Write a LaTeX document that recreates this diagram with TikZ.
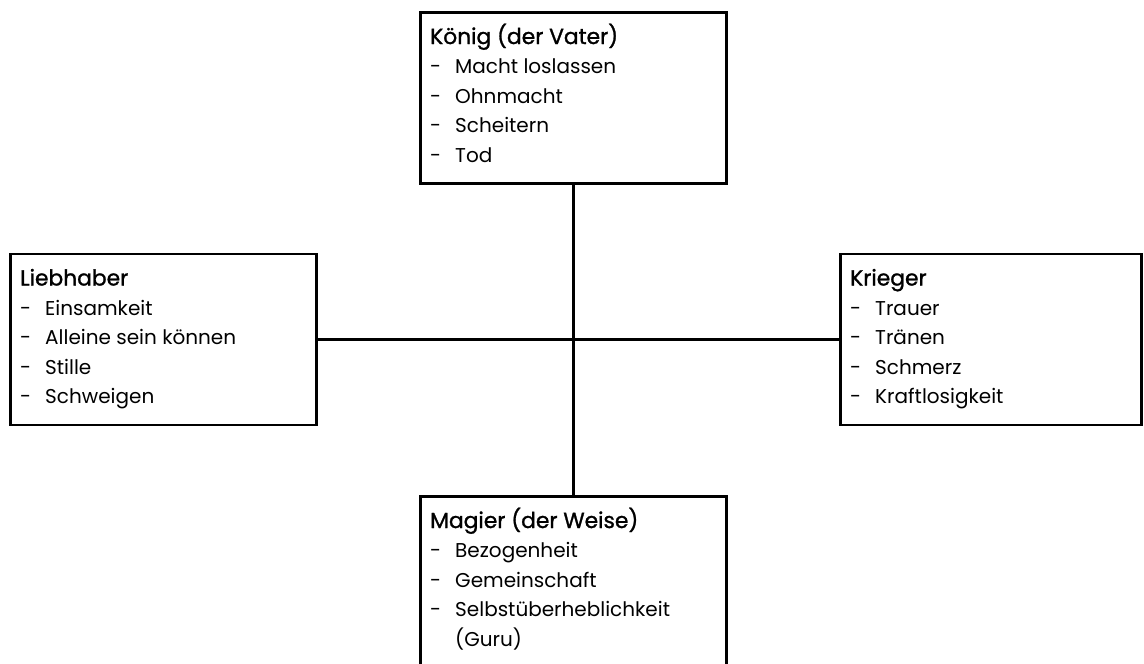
\documentclass[tikz,border=0pt]{standalone}
\usepackage{fontspec}
\setmainfont{Poppins}
\newfontfamily\ttlfont[FakeBold=1.2]{Poppins}
\tikzset{
  box/.style={draw=black, line width=2.6pt, fill=white, anchor=north west, inner sep=0pt},
  conn/.style={line width=2.8pt},
  ttl/.style={anchor=base west, inner sep=0pt, font=\ttlfont\fontsize{21.8}{25}\selectfont},
  itm/.style={anchor=base west, inner sep=0pt, font=\fontsize{20}{24}\selectfont},
}
\newcommand\fillbox[3]{%
  \node[ttl] (#1-t) at ([shift={(11,33)}]#1.north west) {#2};
  \foreach \s [count=\i] in {#3} {
    \node[itm] (#1-d\i) at ([shift={(11,{33+29.5*\i})}]#1.north west) {-};
    \node[itm] (#1-i\i) at ([shift={(36,{33+29.5*\i})}]#1.north west) {\s};
  }%
}
\begin{document}
\begin{tikzpicture}[x=1pt,y=-1pt]
\clip (0,0) rectangle (1144,664);
\fill[white] (0,0) rectangle (1144,664);
\node[box, minimum width=306, minimum height=171] (koenig) at (419,11) {};
\node[box, minimum width=306, minimum height=171] (lieb) at (9,252.5) {};
\node[box, minimum width=301, minimum height=171] (krieg) at (839,252.5) {};
\node[box, minimum width=306, minimum height=190] (magier) at (419,495) {};
\draw[conn] (koenig.south) -- (magier.north);
\draw[conn] (lieb.east) -- (krieg.west);
\fillbox{koenig}{König (der Vater)}{Macht loslassen,Ohnmacht,Scheitern,Tod}
\fillbox{lieb}{Liebhaber}{Einsamkeit,Alleine sein können,Stille,Schweigen}
\fillbox{krieg}{Krieger}{Trauer,Tränen,Schmerz,Kraftlosigkeit}
\fillbox{magier}{Magier (der Weise)}{Bezogenheit,Gemeinschaft,Selbstüberheblichkeit}
\node[itm] (magier-i4) at ([shift={(36,{33+29.5*4})}]magier.north west) {(Guru)};
\end{tikzpicture}
\end{document}
